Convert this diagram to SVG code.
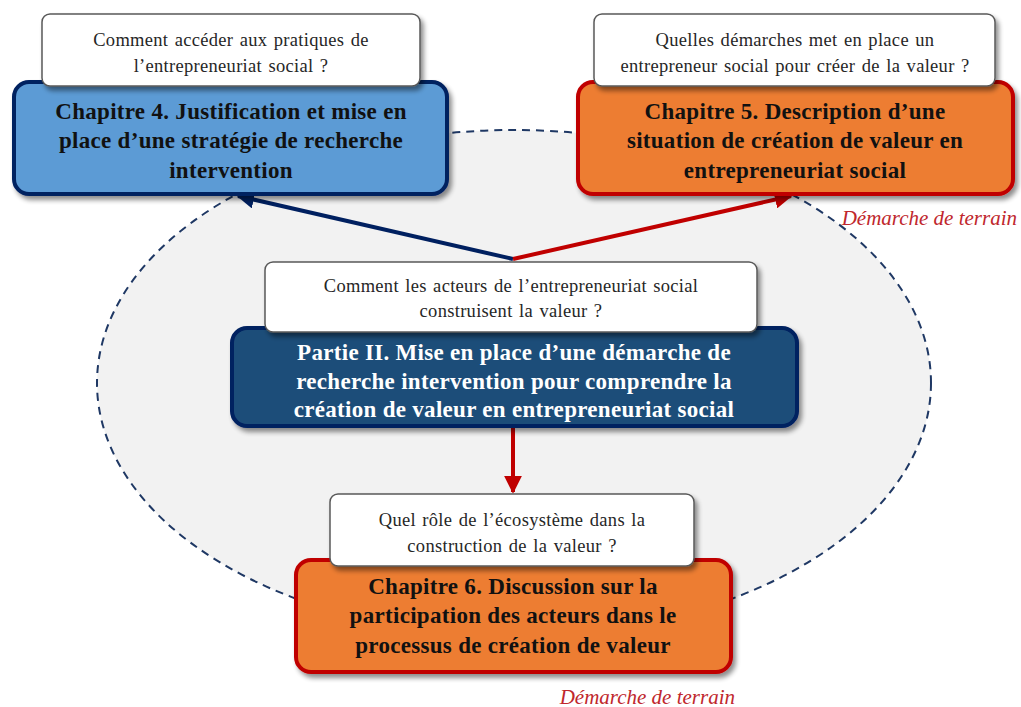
<svg xmlns="http://www.w3.org/2000/svg" width="1021" height="707" viewBox="0 0 1021 707">
<style>
.q{fill:#fff;stroke:#595959;stroke-width:1.5}
.qt{font-family:"Liberation Serif",serif;font-size:18.5px;letter-spacing:0.3px;word-spacing:1.5px;fill:#262626;text-anchor:middle}
.tt{font-family:"Liberation Serif",serif;font-size:23px;letter-spacing:0.3px;font-weight:bold;fill:#111;text-anchor:middle}
.tw{font-family:"Liberation Serif",serif;font-size:23px;letter-spacing:0.3px;font-weight:bold;fill:#fff;text-anchor:middle}
.blue{fill:#5B9BD5;stroke:#002060;stroke-width:4}
.orange{fill:#ED7D31;stroke:#C00000;stroke-width:4}
.navy{fill:#1F4E79;stroke:#002060;stroke-width:4}
.dem{font-family:"Liberation Serif",serif;font-size:21px;font-style:italic;fill:#C0272D}
</style>
<defs>
<filter id="sh" x="-10%" y="-10%" width="125%" height="135%">
<feGaussianBlur in="SourceAlpha" stdDeviation="2.5"/>
<feOffset dx="3" dy="4"/>
<feComponentTransfer><feFuncA type="linear" slope="0.45"/></feComponentTransfer>
<feMerge><feMergeNode/><feMergeNode in="SourceGraphic"/></feMerge>
</filter>
<marker id="an" viewBox="0 0 10 10" refX="9" refY="5" markerWidth="4.5" markerHeight="4.5" orient="auto" markerUnits="strokeWidth"><path d="M0,0 L10,5 L0,10 z" fill="#002060"/></marker>
<marker id="ar" viewBox="0 0 10 10" refX="9" refY="5" markerWidth="4.5" markerHeight="4.5" orient="auto" markerUnits="strokeWidth"><path d="M0,0 L10,5 L0,10 z" fill="#C00000"/></marker>
</defs>
<rect width="1021" height="707" fill="#fff"/>
<ellipse cx="514" cy="383" rx="417" ry="253" fill="#F2F2F2" stroke="#1F3864" stroke-width="2" stroke-dasharray="8 6"/>
<g id="connectors">
<line x1="513" y1="259" x2="238" y2="196" stroke="#002060" stroke-width="4" marker-end="url(#an)"/>
<line x1="513" y1="259" x2="791" y2="196" stroke="#C00000" stroke-width="4" marker-end="url(#ar)"/>
<line x1="513" y1="427" x2="513" y2="492" stroke="#C00000" stroke-width="4" marker-end="url(#ar)"/>
</g>
<g id="ch4">
<rect class="blue" x="14" y="82" width="433" height="112" rx="15" filter="url(#sh)"/>
<rect class="q" x="42" y="14" width="378" height="72" rx="8" filter="url(#sh)"/>
<text class="qt" x="231" y="46">Comment accéder aux pratiques de</text>
<text class="qt" x="231" y="72">l’entrepreneuriat social ?</text>
<text class="tt" x="231" y="119">Chapitre 4. Justification et mise en</text>
<text class="tt" x="231" y="148">place d’une stratégie de recherche</text>
<text class="tt" x="231" y="178">intervention</text>
</g>
<g id="ch5">
<rect class="orange" x="578" y="82" width="435" height="112" rx="15" filter="url(#sh)"/>
<rect class="q" x="594" y="14" width="401" height="72" rx="8" filter="url(#sh)"/>
<text class="qt" x="795" y="46">Quelles démarches met en place un</text>
<text class="qt" x="795" y="72">entrepreneur social pour créer de la valeur ?</text>
<text class="tt" x="795" y="119">Chapitre 5. Description d’une</text>
<text class="tt" x="795" y="148">situation de création de valeur en</text>
<text class="tt" x="795" y="178">entrepreneuriat social</text>
</g>
<g id="partie2">
<rect class="navy" x="232" y="328" width="565" height="98" rx="15" filter="url(#sh)"/>
<rect class="q" x="265" y="262" width="492" height="70" rx="8" filter="url(#sh)"/>
<text class="qt" x="511" y="292">Comment les acteurs de l’entrepreneuriat social</text>
<text class="qt" x="511" y="317">construisent la valeur ?</text>
<text class="tw" x="514" y="360">Partie II. Mise en place d’une démarche de</text>
<text class="tw" x="514" y="389">recherche intervention pour comprendre la</text>
<text class="tw" x="514" y="417">création de valeur en entrepreneuriat social</text>
</g>
<g id="ch6">
<rect class="orange" x="296" y="560" width="435" height="112" rx="15" filter="url(#sh)"/>
<rect class="q" x="330" y="494" width="364" height="72" rx="8" filter="url(#sh)"/>
<text class="qt" x="512" y="526">Quel rôle de l’écosystème dans la</text>
<text class="qt" x="512" y="552">construction de la valeur ?</text>
<text class="tt" x="513" y="594">Chapitre 6. Discussion sur la</text>
<text class="tt" x="513" y="623">participation des acteurs dans le</text>
<text class="tt" x="513" y="653">processus de création de valeur</text>
</g>
<g id="labels">
<text class="dem" x="1017" y="225" text-anchor="end">Démarche de terrain</text>
<text class="dem" x="735" y="704" text-anchor="end">Démarche de terrain</text>
</g>
</svg>
